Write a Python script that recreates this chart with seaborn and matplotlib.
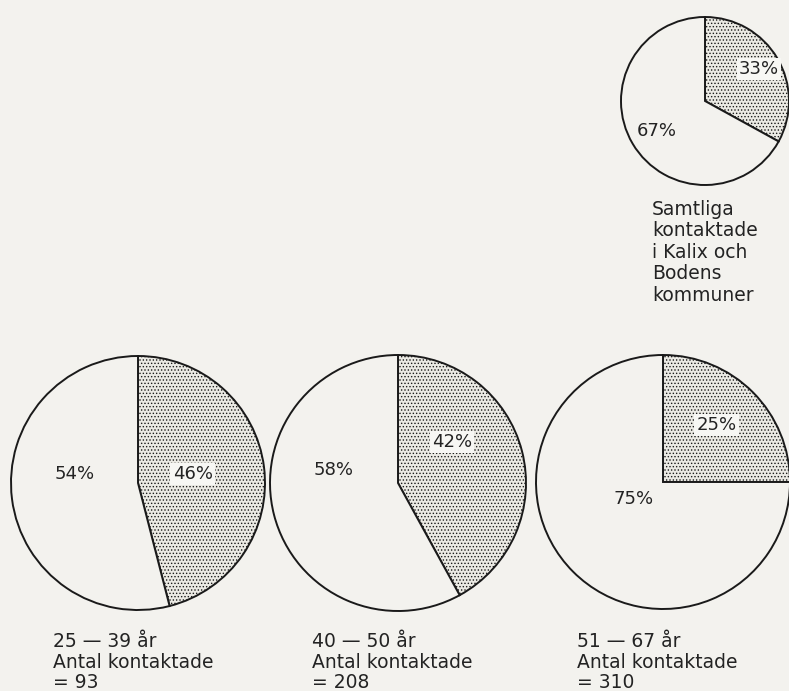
import seaborn as sns
import matplotlib.pyplot as plt

# share (shaded part, white part) in percent
PIE_NAMES = ["Samtliga", "25-39", "40-50", "51-67"]
SHADED_PCT = [33, 46, 42, 25]
WHITE_PCT = [67, 54, 58, 75]
CAPTIONS = [
    "Samtliga\nkontaktade\ni Kalix och\nBodens\nkommuner",
    "25 — 39 år\nAntal kontaktade\n= 93",
    "40 — 50 år\nAntal kontaktade\n= 208",
    "51 — 67 år\nAntal kontaktade\n= 310",
]

# layout in pixels: pie centre x, centre y, radius
W, H = 789, 691
PIE_GEOM = [(705, 101, 84), (138, 483, 127), (398, 483, 128), (663, 482, 127)]
# label positions in pie units (shaded label, white label)
LABEL_POS = [
    ((0.64, 0.38), (-0.58, -0.36)),
    ((0.43, 0.07), (-0.50, 0.07)),
    ((0.42, 0.32), (-0.50, 0.10)),
    ((0.42, 0.45), (-0.23, -0.13)),
]
CAPTION_POS = [(652, 200), (53, 632), (312, 632), (577, 632)]
CAPTION_SPACING = [1.16, 1.1, 1.1, 1.1]

BG = "#f3f2ee"
INK = "#232323"

sns.set_style("white")
plt.rcParams["font.family"] = ["DejaVu Sans"]
plt.rcParams["hatch.color"] = "#8a8a88"
plt.rcParams["hatch.linewidth"] = 0.6

fig = plt.figure(figsize=(W / 100, H / 100), dpi=100, facecolor=BG)

pad = 1.06
for i, name in enumerate(PIE_NAMES):
    cx, cy, r = PIE_GEOM[i]
    size = 2 * r * pad
    ax = fig.add_axes([(cx - r * pad) / W, (H - cy - r * pad) / H, size / W, size / H])
    ax.set_facecolor("none")
    wedges, _ = ax.pie(
        [SHADED_PCT[i], WHITE_PCT[i]],
        startangle=90,
        counterclock=False,
        colors=["#ebeae4", BG],
        wedgeprops={"edgecolor": "#1a1a1a", "linewidth": 1.4},
    )
    wedges[0].set_hatch(".....")
    ax.set_xlim(-pad, pad)
    ax.set_ylim(-pad, pad)
    ax.set_aspect("equal")
    ax.axis("off")

    (sx, sy), (wx, wy) = LABEL_POS[i]
    ax.text(sx, sy, f"{SHADED_PCT[i]}%", ha="center", va="center", fontsize=13,
            color=INK,
            bbox={"facecolor": "#f7f7f4", "edgecolor": "none", "pad": 1.5})
    ax.text(wx, wy, f"{WHITE_PCT[i]}%", ha="center", va="center", fontsize=13,
            color=INK)

    tx, ty = CAPTION_POS[i]
    fig.text(tx / W, 1 - ty / H, CAPTIONS[i], ha="left", va="top", fontsize=13.5,
             color=INK, linespacing=CAPTION_SPACING[i])

fig.savefig("out.png", dpi=100, facecolor=BG)
